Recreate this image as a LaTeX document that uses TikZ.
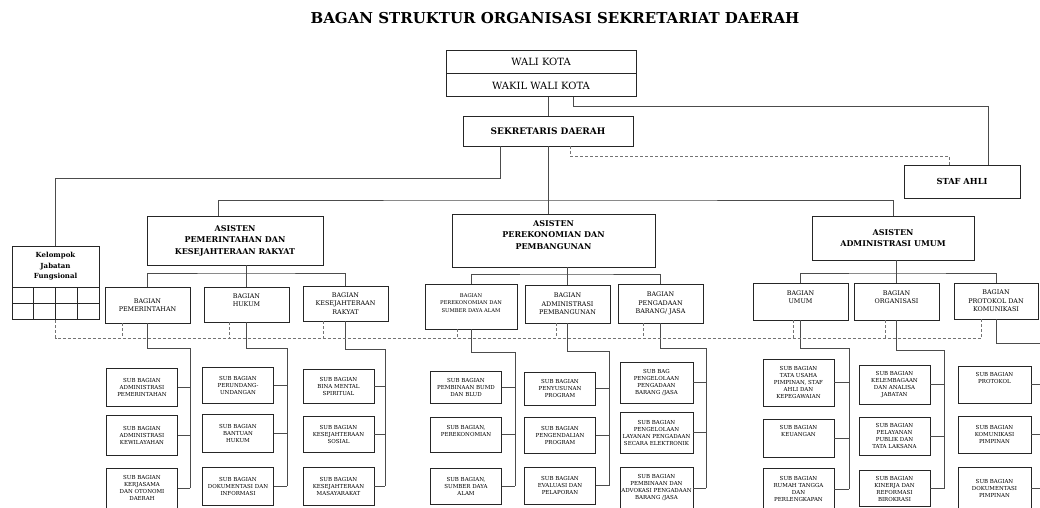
\documentclass[tikz,border=0pt]{standalone}
\usepackage{fontspec}
\setmainfont{DejaVu Serif}
\usetikzlibrary{positioning}

\tikzset{
  box/.style={draw=black!85, line width=0.9pt, fill=white, inner sep=1pt, align=center},
  chief/.style={box, font=\fontsize{10}{12}\selectfont},
  asisten/.style={box, font=\fontsize{8}{11.5}\selectfont\bfseries},
  bagian/.style={box, font=\fontsize{6.4}{8.5}\selectfont},
  subbag/.style={box, minimum width=71pt, minimum height=38pt, font=\fontsize{5.5}{7}\selectfont},
  conn/.style={draw=black!70, line width=1pt},
  dash line/.style={draw=black!55, line width=0.9pt, dash pattern=on 3pt off 2pt},
}

\begin{document}
\begin{tikzpicture}[x=1pt, y=-1pt]
  \useasboundingbox (0,0) rectangle (1040,507);
  \clip (0,0) rectangle (1040,507);

  \node[font=\fontsize{15}{18}\selectfont\bfseries] (title) at (555,18) {BAGAN STRUKTUR ORGANISASI SEKRETARIAT DAERAH};

  % top
  \node[chief, minimum width=190pt, minimum height=23pt] (wali) at (541,61.5) {WALI KOTA};
  \node[chief, minimum width=190pt, minimum height=23pt, below=0pt of wali] (wakil) {WAKIL WALI KOTA};
  \node[box, minimum width=170pt, minimum height=30pt, font=\fontsize{9}{11}\selectfont\bfseries] (sekda) at (548,131) {SEKRETARIS DAERAH};
  \node[box, minimum width=116pt, minimum height=33pt, font=\fontsize{8.3}{10}\selectfont\bfseries] (staf) at (962,181.5) {STAF AHLI};
  \node[box, minimum width=87pt, minimum height=41pt, font=\fontsize{7}{10.5}\selectfont\bfseries] (kjf) at (55.5,266.5) {Kelompok\\Jabatan\\Fungsional};
  \node[box, minimum width=87pt, minimum height=32pt, anchor=north] (kjfg) at (kjf.south) {};
  \foreach \x in {33.75,55.5,77.25}
    \draw[box] (\x,287) -- (\x,319);
  \draw[box] (12,303) -- (99,303);

  % asisten
  \node[asisten, minimum width=176pt, minimum height=49pt] (asPm) at (235,240.5) {ASISTEN\\PEMERINTAHAN DAN\\KESEJAHTERAAN RAKYAT};
  \node[asisten, minimum width=203pt, minimum height=53pt] (asPk) at (553.5,240.5) {ASISTEN\\PEREKONOMIAN DAN\\PEMBANGUNAN\\\mbox{}};
  \node[asisten, minimum width=162pt, minimum height=44pt] (asAd) at (893,238) {ASISTEN\\ADMINISTRASI UMUM};

  % bagian
  \node[bagian, minimum width=85pt, minimum height=36pt] (bpm) at (147.5,305) {BAGIAN\\PEMERINTAHAN};
  \node[bagian, minimum width=85pt, minimum height=35pt] (bhk) at (246.5,304.5) {BAGIAN\\HUKUM\\\mbox{}};
  \node[bagian, minimum width=85pt, minimum height=35pt] (bks) at (345.5,303.5) {BAGIAN\\KESEJAHTERAAN\\RAKYAT};
  \node[bagian, minimum width=92pt, minimum height=45pt, font=\fontsize{5.2}{7.5}\selectfont] (bpk) at (471,306.5) {BAGIAN\\PEREKONOMIAN DAN\\SUMBER DAYA ALAM\\\mbox{}};
  \node[bagian, minimum width=85pt, minimum height=38pt] (bap) at (567.5,304) {BAGIAN\\ADMINISTRASI\\PEMBANGUNAN};
  \node[bagian, minimum width=85pt, minimum height=39pt] (bpg) at (660.5,303.5) {BAGIAN\\PENGADAAN\\BARANG/ JASA};
  \node[bagian, minimum width=95pt, minimum height=37pt] (bum) at (800.5,301.5) {BAGIAN\\UMUM\\\mbox{}};
  \node[bagian, minimum width=85pt, minimum height=37pt] (bog) at (896.5,301.5) {BAGIAN\\ORGANISASI\\\mbox{}};
  \node[bagian, minimum width=84pt, minimum height=36pt] (bpr) at (996,301) {BAGIAN\\PROTOKOL DAN\\KOMUNIKASI};

  % sub bagian
  \node[subbag] (pm1) at (142,387) {SUB BAGIAN\\ADMINISTRASI\\PEMERINTAHAN};
  \node[subbag, minimum height=40pt] (pm2) at (142,435) {SUB BAGIAN\\ADMINISTRASI\\KEWILAYAHAN};
  \node[subbag, minimum height=40pt] (pm3) at (142,488) {SUB BAGIAN\\KERJASAMA\\DAN OTONOMI\\DAERAH};

  \node[subbag, minimum height=36pt] (hk1) at (238,385) {SUB BAGIAN\\PERUNDANG-\\UNDANGAN};
  \node[subbag] (hk2) at (238,433) {SUB BAGIAN\\BANTUAN\\HUKUM};
  \node[subbag] (hk3) at (238,486) {SUB BAGIAN\\DOKUMENTASI DAN\\INFORMASI};

  \node[subbag, minimum height=34pt] (ks1) at (338.5,386) {SUB BAGIAN\\BINA MENTAL\\SPIRITUAL};
  \node[subbag, minimum height=36pt] (ks2) at (338.5,434) {SUB BAGIAN\\KESEJAHTERAAN\\SOSIAL};
  \node[subbag] (ks3) at (338.5,486) {SUB BAGIAN\\KESEJAHTERAAN\\MASAYARAKAT};

  \node[subbag, minimum height=32pt] (pk1) at (466,387) {SUB BAGIAN\\PEMBINAAN BUMD\\DAN BLUD};
  \node[subbag, minimum height=35pt] (pk2) at (466,434.5) {SUB BAGIAN,\\PEREKONOMIAN\\\mbox{}};
  \node[subbag, minimum height=36pt] (pk3) at (466,486) {SUB BAGIAN,\\SUMBER DAYA\\ALAM};

  \node[subbag, minimum height=33pt] (ap1) at (560,388.5) {SUB BAGIAN\\PENYUSUNAN\\PROGRAM};
  \node[subbag, minimum height=36pt] (ap2) at (560,435) {SUB BAGIAN\\PENGENDALIAN\\PROGRAM};
  \node[subbag, minimum height=37pt] (ap3) at (560,485.5) {SUB BAGIAN\\EVALUASI DAN\\PELAPORAN};

  \node[subbag, minimum width=73pt, minimum height=41pt] (pg1) at (656.5,382.5) {SUB BAG\\PENGELOLAAN\\PENGADAAN\\BARANG /JASA};
  \node[subbag, minimum width=73pt, minimum height=41pt] (pg2) at (656.5,432.5) {SUB BAGIAN\\PENGELOLAAN\\LAYANAN PENGADAAN\\SECARA ELEKTRONIK};
  \node[subbag, minimum width=73pt, minimum height=42pt] (pg3) at (656.5,488) {SUB BAGIAN\\PEMBINAAN DAN\\ADVOKASI PENGADAAN\\BARANG /JASA};

  \node[subbag, minimum height=47pt] (um1) at (798.5,382.5) {SUB BAGIAN\\TATA USAHA\\PIMPINAN, STAF\\AHLI DAN\\KEPEGAWAIAN};
  \node[subbag] (um2) at (798.5,438) {SUB BAGIAN\\KEUANGAN\\\mbox{}\\\mbox{}};
  \node[subbag, minimum height=42pt] (um3) at (798.5,489) {SUB BAGIAN\\RUMAH TANGGA\\DAN\\PERLENGKAPAN};

  \node[subbag, minimum height=39pt] (og1) at (894.5,384.5) {SUB BAGIAN\\KELEMBAGAAN\\DAN ANALISA\\JABATAN};
  \node[subbag] (og2) at (894.5,436) {SUB BAGIAN\\PELAYANAN\\PUBLIK DAN\\TATA LAKSANA};
  \node[subbag, minimum height=36pt] (og3) at (894.5,488.5) {SUB BAGIAN\\KINERJA DAN\\REFORMASI\\BIROKRASI};

  \node[subbag, minimum width=73pt, minimum height=37pt] (pr1) at (994.5,384.5) {SUB BAGIAN\\PROTOKOL\\\mbox{}\\\mbox{}};
  \node[subbag, minimum width=73pt, minimum height=37pt] (pr2) at (994.5,434.5) {SUB BAGIAN\\KOMUNIKASI\\PIMPINAN};
  \node[subbag, minimum width=73pt, minimum height=42pt] (pr3) at (994.5,488) {SUB BAGIAN\\DOKUMENTASI\\PIMPINAN};

  % spines
  \coordinate (pmS) at (190,348);
  \coordinate (hkS) at (287,348);
  \coordinate (ksS) at (385,349);
  \coordinate (pkS) at (515,352);
  \coordinate (apS) at (609,351);
  \coordinate (pgS) at (706,348);
  \coordinate (umS) at (849,348);
  \coordinate (ogS) at (944,350);
  \coordinate (prS) at (1046,343);
  \coordinate (busA) at (545,200);
  \coordinate (dl) at (982,338);

  % lines
  \draw[conn] (sekda.north |- wakil.south) -- (sekda.north);
  \draw[conn] ([xshift=32pt]wakil.south) -- ++(0,9) -| ([xshift=26pt]staf.north);
  \draw[dash line] ([xshift=22pt]sekda.south) -- ++(0,10) -| ([xshift=-13pt]staf.north);
  \draw[conn] ([xshift=-48pt]sekda.south) -- ++(0,32) -| (kjf.north);
  \draw[conn] (sekda.south) -- (sekda.south |- asPk.north);
  \draw[conn] ([xshift=-17pt]asPm.north) |- (busA) -| (asAd.north);

  \draw[conn] (asPm.south -| bhk.north) -- (bhk.north);
  \draw[conn] (bpm.north) |- (bhk.north |- 0,273) -| (bks.north);
  \draw[conn] (asPk.south -| bap.north) -- (bap.north);
  \draw[conn] (bpk.north) |- (bap.north |- 0,274) -| (bpg.north);
  \draw[conn] (asAd.south -| bog.north) -- (bog.north);
  \draw[conn] (bum.north) |- (bog.north |- 0,273) -| (bpr.north);

  \foreach \c in {pm,hk,ks,pk,ap,pg,um,og,pr} {
    \draw[conn] (b\c.south) |- (\c S) -- (\c S |- \c3.east);
    \foreach \i in {1,2,3}
      \draw[conn] (\c\i.east) -- (\c\i.east -| \c S);
  }

  % dashed line
  \draw[dash line] (kjfg.south) |- (dl);
  \foreach \b/\s in {bpm/-25,bhk/-17,bks/-22,bpk/-14,bap/-11,bpg/-17,bum/-7,bog/-11,bpr/-15}
    \draw[dash line] ([xshift=\s pt]\b.south) -- ([xshift=\s pt]\b.south |- dl);
\end{tikzpicture}
\end{document}
